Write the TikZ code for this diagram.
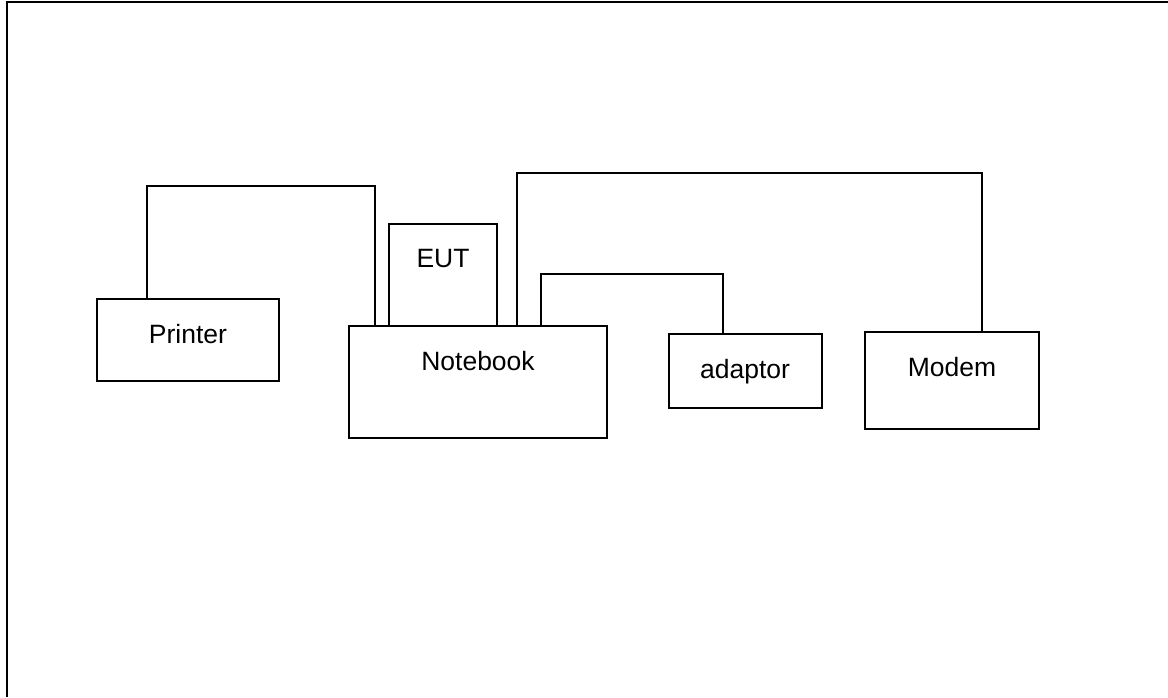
\documentclass[tikz,border=0pt]{standalone}
\usepackage{fontspec}
\setmainfont{Liberation Sans}
\begin{document}
\begin{tikzpicture}[x=1pt,y=-1pt,
  box/.style={draw,line width=2pt,inner sep=0pt,rectangle},
  lbl/.style={anchor=base,inner sep=0pt,font=\fontsize{26.5}{30}\selectfont},
  wire/.style={line width=2pt}]
\useasboundingbox (0,0) rectangle (1168,697);
% frame (top and left edges)
\coordinate (f0) at (6.7,2);
\coordinate (f1) at (1168,2);
\coordinate (f2) at (6.7,697);
\draw[line width=2.4pt] (f1) -- (f0) -- (f2);
% boxes
\node[box,minimum width=182pt,minimum height=82pt] (printer) at (188,340) {};
\node[box,minimum width=108pt,minimum height=102pt] (eut) at (443,274.5) {};
\node[box,minimum width=258pt,minimum height=112pt] (notebook) at (478,381.5) {};
\node[box,minimum width=153pt,minimum height=74pt] (adaptor) at (745,371) {};
\node[box,minimum width=174pt,minimum height=97pt] (modem) at (952,380.5) {};
% labels
\node[lbl] (tprinter) at (188,343) {Printer};
\node[lbl] (teut) at (443,267) {EUT};
\node[lbl] (tnotebook) at (478,370) {Notebook};
\node[lbl] (tadaptor) at (745,378) {adaptor};
\node[lbl] (tmodem) at (952,376) {Modem};
% wires
\coordinate (pa) at (147,185.5);
\coordinate (pb) at (375,185.5);
\draw[wire] (printer.north -| pa) -- (pa) -- (pb) -- (notebook.north -| pb);
\coordinate (ma) at (517,172.5);
\coordinate (mb) at (982,172.5);
\draw[wire] (notebook.north -| ma) -- (ma) -- (mb) -- ([yshift=-1pt]modem.north -| mb);
\coordinate (aa) at (541,274);
\coordinate (ab) at (722.5,274);
\draw[wire] (notebook.north -| aa) -- (aa) -- (ab) -- (adaptor.north -| ab);
\end{tikzpicture}
\end{document}
